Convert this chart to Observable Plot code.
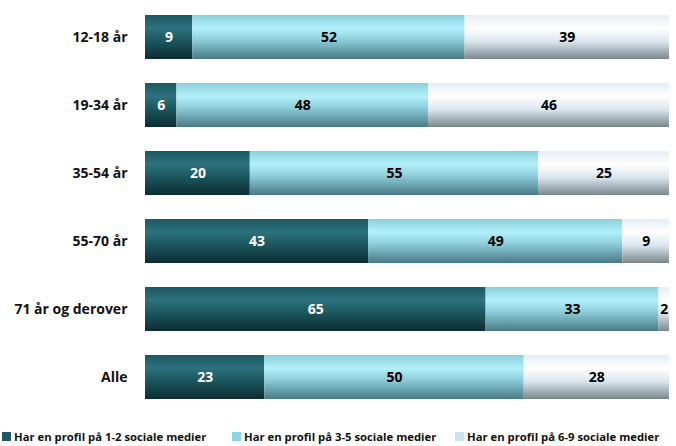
<!DOCTYPE html>
<html>
<head>
<meta charset="utf-8">
<script src="https://cdn.jsdelivr.net/npm/d3@7"></script>
<script src="https://cdn.jsdelivr.net/npm/@observablehq/plot@0.6"></script>
<style>
  html, body { margin: 0; padding: 0; background: #fff; overflow: hidden; }
  #chart { position: relative; width: 676px; height: 446px; font-family: "Open Sans", "Liberation Sans", Arial, sans-serif; overflow: hidden; }
  #legend { position: absolute; left: 0; top: 429px; width: 676px; height: 16px; font-weight: bold; font-size: 11.3px; color: #111; white-space: nowrap; }
  #legend .item { position: absolute; top: 0; display: flex; align-items: center; }
  #legend .sw { width: 9px; height: 9px; margin-right: 3px; }
</style>
</head>
<body>
<div id="chart"></div>
<script>
const categories = ["12-18 år", "19-34 år", "35-54 år", "55-70 år", "71 år og derover", "Alle"];
const seriesNames = ["Har en profil på 1-2 sociale medier", "Har en profil på 3-5 sociale medier", "Har en profil på 6-9 sociale medier"];
const s1 = [9, 6, 20, 43, 65, 23];
const s2 = [52, 48, 55, 49, 33, 50];
const s3 = [39, 46, 25, 9, 2, 28];
const gradIds = ["g1", "g2", "g3"];
const swatchColors = ["#1f5a64", "#8fd3e0", "#c9e3f2"];
const labelColors = ["#ffffff", "#000000", "#000000"];
const legendX = [2, 232, 455];

const seriesValues = [s1, s2, s3];
const data = [];
categories.forEach((c, i) => {
  seriesNames.forEach((s, k) => {
    data.push({cat: c, series: s, k, value: seriesValues[k][i]});
  });
});

const stackOpts = {x: "value", y: "cat", z: "series", order: seriesNames, offset: "normalize"};

const plot = Plot.plot({
  width: 676,
  height: 422,
  marginLeft: 145,
  marginRight: 7,
  marginTop: 0,
  marginBottom: 0,
  style: {fontFamily: "Open Sans, Liberation Sans, Arial, sans-serif", background: "#fff"},
  x: {axis: null, domain: [0, 1]},
  y: {domain: categories, range: [0.7, 412.3], paddingInner: 0.36, paddingOuter: 0.18, label: null},
  marks: [
    Plot.axisY({tickSize: 0, tickPadding: 18, fontSize: 14, fontWeight: "bold", fill: "#111", label: null}),
    Plot.barX(data, Plot.stackX({...stackOpts, fill: d => `url(#${gradIds[d.k]})`, inset: 0})),
    Plot.text(data, Plot.stackX({...stackOpts, text: d => String(d.value), fill: d => labelColors[d.k], fontSize: 14, fontWeight: "bold", textAnchor: "middle"}))
  ]
});

// gradient definitions for cylinder-like shading
const ns = "http://www.w3.org/2000/svg";
const defs = document.createElementNS(ns, "defs");
const stops = {
  g1: [[0, "#1d5862"], [0.3, "#2d727d"], [0.55, "#1d5a63"], [1, "#0c2c31"]],
  g2: [[0, "#8ccfdb"], [0.3, "#b2f1fb"], [0.55, "#8fd0dc"], [1, "#487a85"]],
  g3: [[0, "#e4eef4"], [0.3, "#ffffff"], [0.6, "#dbe6ee"], [1, "#7a878d"]]
};
for (const id of gradIds) {
  const lg = document.createElementNS(ns, "linearGradient");
  lg.setAttribute("id", id);
  lg.setAttribute("x1", "0"); lg.setAttribute("y1", "0");
  lg.setAttribute("x2", "0"); lg.setAttribute("y2", "1");
  for (const [o, c] of stops[id]) {
    const st = document.createElementNS(ns, "stop");
    st.setAttribute("offset", o);
    st.setAttribute("stop-color", c);
    lg.appendChild(st);
  }
  defs.appendChild(lg);
}
plot.insertBefore(defs, plot.firstChild);

const chart = document.getElementById("chart");
chart.appendChild(plot);

const legend = document.createElement("div");
legend.id = "legend";
seriesNames.forEach((s, k) => {
  const item = document.createElement("div");
  item.className = "item";
  item.style.left = legendX[k] + "px";
  const sw = document.createElement("div");
  sw.className = "sw";
  sw.style.background = swatchColors[k];
  const t = document.createElement("span");
  t.textContent = s;
  item.appendChild(sw);
  item.appendChild(t);
  legend.appendChild(item);
});
chart.appendChild(legend);
</script>
</body>
</html>
